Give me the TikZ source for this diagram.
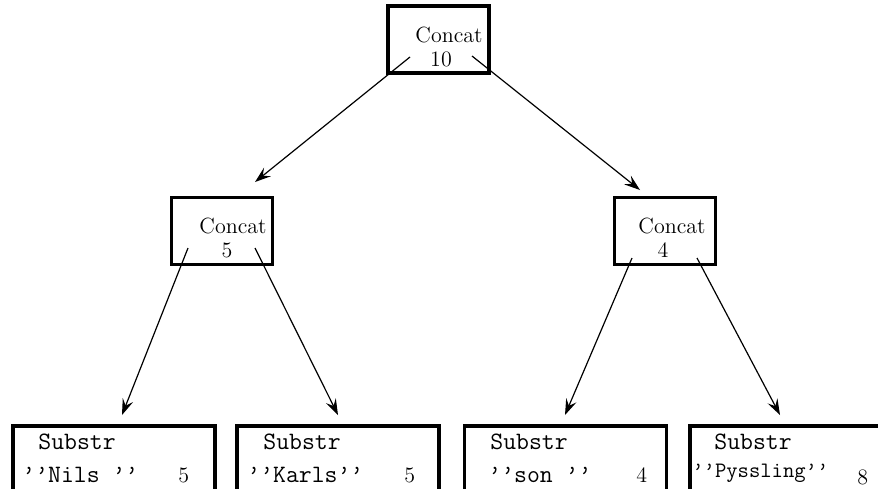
\documentclass[tikz,border=0pt]{standalone}
\usetikzlibrary{arrows.meta}
\begin{document}
\begin{tikzpicture}[x=0.5pt,y=-0.5pt,
  box/.style={draw, line width=1.7pt, rectangle, inner sep=0pt, minimum width=50.5pt, minimum height=33.5pt},
  leaf/.style={draw, line width=1.7pt, rectangle, inner sep=0pt, minimum width=101pt, minimum height=40pt},
  rmlab/.style={anchor=base, inner sep=0pt, font=\fontsize{11}{13}\selectfont},
  ttlab/.style={anchor=base west, inner sep=0pt, font=\fontsize{12.5}{14}\selectfont\ttfamily},
  numlab/.style={anchor=base west, inner sep=0pt, font=\fontsize{11}{13}\selectfont},
  conn/.style={line width=0.6pt, -{Stealth[length=8pt,width=5.5pt,inset=3pt]}}]
\useasboundingbox (0,0) rectangle (878,488);
\begin{scope}
\clip (0,0) rectangle (878,488);
% internal nodes
\node[box] (top) at (438.5,39.5) {};
\node[box] (ml) at (222,231) {};
\node[box] (mr) at (665,231) {};
\node[rmlab] (topc) at (449,42) {Concat};
\node[rmlab] (topn) at (441,66) {10};
\node[rmlab] (mlc) at (233,233) {Concat};
\node[rmlab] (mln) at (227,257) {5};
\node[rmlab] (mrc) at (672,233) {Concat};
\node[rmlab] (mrn) at (663,257) {4};
% leaves
\node[leaf] (l1) at (114,466) {};
\node[leaf] (l2) at (338,466) {};
\node[leaf] (l3) at (565.5,466) {};
\node[leaf] (l4) at (791,466) {};
\node[ttlab] (l1a) at (38,449) {Substr};
\node[ttlab] (l1b) at (22,482) {’’Nils ’’};
\node[numlab] (l1c) at (178,482) {5};
\node[ttlab] (l2a) at (263,449) {Substr};
\node[ttlab] (l2b) at (247,482) {’’Karls’’};
\node[numlab] (l2c) at (404,482) {5};
\node[ttlab] (l3a) at (490,449) {Substr};
\node[ttlab] (l3b) at (488,482) {’’son ’’};
\node[numlab] (l3c) at (636,482) {4};
\node[ttlab] (l4a) at (714,449) {Substr};
\node[ttlab, font=\fontsize{11}{13}\selectfont\ttfamily] (l4b) at (692,477) {’’Pyssling’’};
\node[numlab] (l4c) at (857,484) {8};
\end{scope}
% connector endpoints
\coordinate (a1) at (410,57);
\coordinate (a2) at (255,182);
\coordinate (b1) at (472,56);
\coordinate (b2) at (640,190);
\coordinate (c1) at (188,248);
\coordinate (c2) at (122,415);
\coordinate (d1) at (255,248);
\coordinate (d2) at (338,415);
\coordinate (e1) at (632,258);
\coordinate (e2) at (565,415);
\coordinate (f1) at (697,258);
\coordinate (f2) at (780,415);
\draw[conn] (a1) -- (a2);
\draw[conn] (b1) -- (b2);
\draw[conn] (c1) -- (c2);
\draw[conn] (d1) -- (d2);
\draw[conn] (e1) -- (e2);
\draw[conn] (f1) -- (f2);
\end{tikzpicture}
\end{document}
